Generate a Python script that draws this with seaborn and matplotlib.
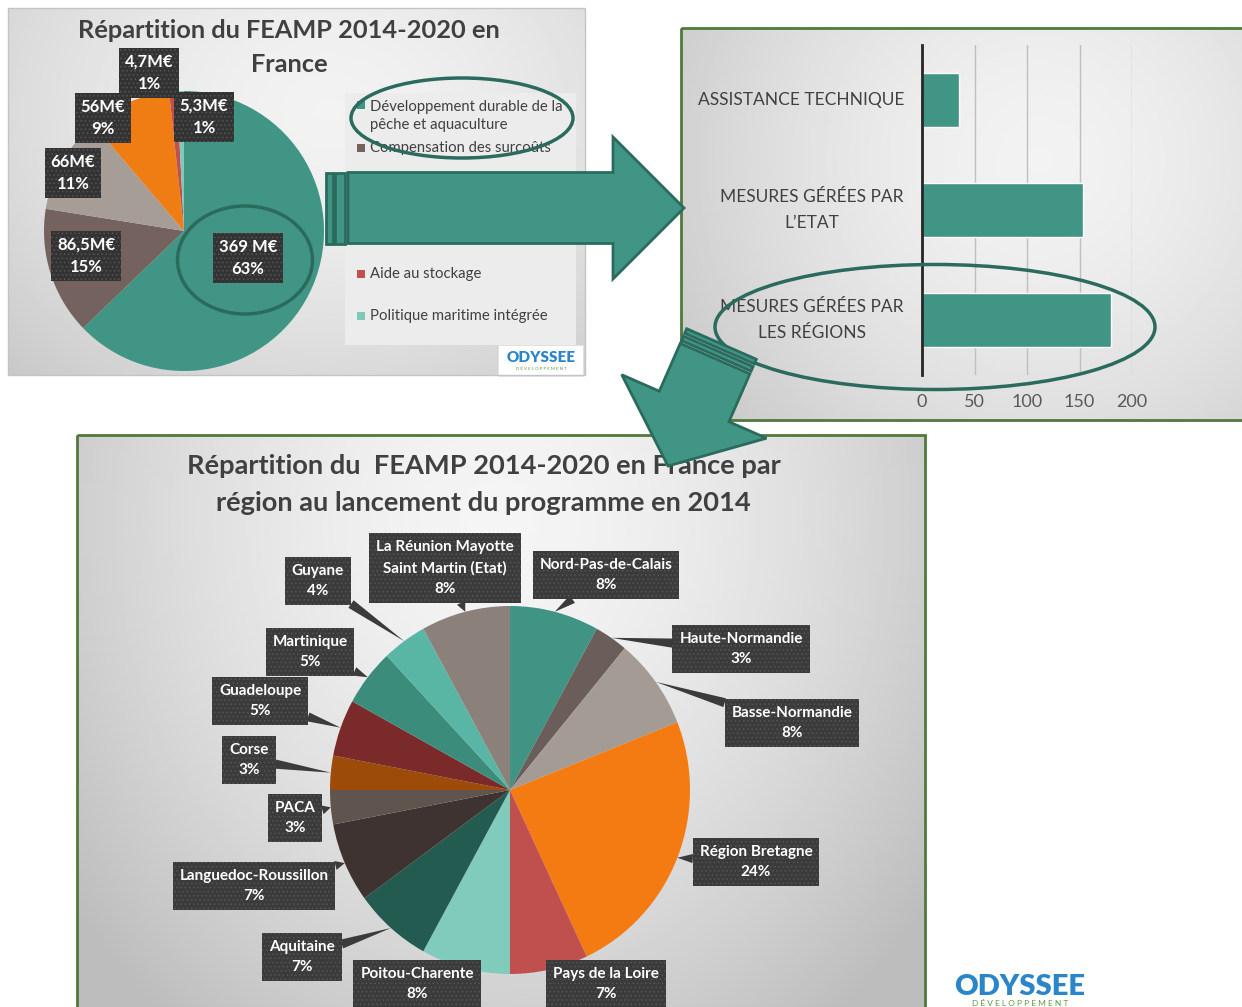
import numpy as np
import seaborn as sns
import matplotlib.pyplot as plt
from matplotlib import font_manager
from matplotlib.patches import Polygon, Rectangle, Ellipse

W, H = 1242, 1007

# ---- data ----------------------------------------------------------------
feamp_labels = ["Développement durable de la\npêche et aquaculture",
                "Compensation des surcoûts", "Contrôle et exécution",
                "Collecte de données", "Aide au stockage",
                "Politique maritime intégrée"]
feamp_meur = [369, 86.5, 66, 56, 5.3, 4.7]
feamp_amount = ["369 M€", "86,5M€", "66M€", "56M€", "5,3M€", "4,7M€"]
feamp_pct = ["63%", "15%", "11%", "9%", "1%", "1%"]
feamp_colors = ["#419585", "#73625e", "#a69d96", "#f07c14", "#c0504d", "#7ecab9"]

bar_cats = ["ASSISTANCE TECHNIQUE", "MESURES GÉRÉES PAR\nL’ETAT",
            "MESURES GÉRÉES PAR\nLES RÉGIONS"]
bar_vals = [35, 153, 180]
bar_ticks = [0, 50, 100, 150, 200]

regions = ["Nord-Pas-de-Calais", "Haute-Normandie", "Basse-Normandie",
           "Région Bretagne", "Pays de la Loire", "Poitou-Charente",
           "Aquitaine", "Languedoc-Roussillon", "PACA", "Corse",
           "Guadeloupe", "Martinique", "Guyane",
           "La Réunion Mayotte\nSaint Martin (Etat)"]
region_pct = [8, 3, 8, 24, 7, 8, 7, 7, 3, 3, 5, 5, 4, 8]
region_colors = ["#3f9483", "#6b5e5a", "#a49b94", "#f47b12", "#c0504d",
                 "#80cbbb", "#245b50", "#3e3330", "#60544f", "#9d4b09",
                 "#7a2a28", "#3b8c7b", "#5ab6a4", "#8c807a"]

# label box centres, in picture pixels
feamp_label_px = [(248, 258), (86, 256), (73, 173), (103, 118), (204, 117), (149, 73)]
region_label_px = [(606, 575), (741, 649), (792, 723), (756, 862), (606, 984),
                   (417, 984), (302, 957), (254, 886), (295, 818), (249, 760),
                   (260, 701), (310, 652), (318, 581), (445, 568)]

# ---- style ----------------------------------------------------------------
sns.set_theme(style="white")
avail = {f.name for f in font_manager.fontManager.ttflist}


def pick(*names):
    for n in names:
        if n in avail:
            return n
    return "DejaVu Sans"


MAIN = pick("Lato", "Open Sans", "Liberation Sans")
NARROW = pick("Liberation Sans Narrow", "Lato")
plt.rcParams["font.family"] = [MAIN, "DejaVu Sans"]
plt.rcParams["hatch.linewidth"] = 0.6

TEAL = "#419585"
EDGE = "#2b6b5d"
GREEN_FRAME = "#4f7a3a"
DARK = "#404040"

fig = plt.figure(figsize=(W / 100, H / 100), dpi=100, facecolor="white")


def px_axes(x0, y0, x1, y1, z=1):
    ax = fig.add_axes([x0 / W, 1 - y1 / H, (x1 - x0) / W, (y1 - y0) / H])
    ax.set_zorder(z)
    ax.patch.set_visible(False)
    return ax


def shade(ax, box, centre, spread, light, dark):
    x0, y0, x1, y1 = box
    xx, yy = np.meshgrid(np.linspace(x0, x1, 240), np.linspace(y0, y1, 240))
    d = np.hypot((xx - centre[0]) / spread[0], (yy - centre[1]) / spread[1])
    val = light - (light - dark) * np.clip(d, 0, 1) ** 1.6
    ax.imshow(val, cmap="gray", vmin=0, vmax=1, extent=(x0, x1, y1, y0),
              aspect="auto", interpolation="bilinear", zorder=0)


def dark_box(fc="#3b3b3b", pad=0.4):
    return dict(boxstyle=f"square,pad={pad}", fc=fc, ec="#555555", lw=0, hatch="....")


# ---- background layer -----------------------------------------------------
bg = px_axes(0, 0, W, H, z=0)
shade(bg, (8, 8, 585, 375), (330, 110), (540, 430), 0.95, 0.74)
shade(bg, (681, 28, 1244, 420), (1040, 160), (430, 430), 0.95, 0.78)
shade(bg, (77, 435, 925, 1010), (500, 520), (540, 640), 0.96, 0.74)
bg.set_xlim(0, W)
bg.set_ylim(H, 0)
bg.axis("off")

bg.add_patch(Rectangle((345, 93), 231, 252, fc="#ececec", ec="none", zorder=1))

bg.text(289, 30, "Répartition du FEAMP 2014-2020 en", ha="center", va="center",
        fontsize=18.3, fontweight="bold", color=DARK, zorder=2)
bg.text(289, 64, "France", ha="center", va="center",
        fontsize=18.3, fontweight="bold", color=DARK, zorder=2)

legend_y = [116, 148, 190, 232, 274, 316]
for i, lab in enumerate(feamp_labels):
    my = 105 if i == 0 else legend_y[i]
    bg.add_patch(Rectangle((357, my - 4), 8, 8, fc=feamp_colors[i], ec="none", zorder=2))
    bg.text(370, legend_y[i], lab, ha="left", va="center", fontsize=10.7,
            color=DARK, linespacing=1.45, zorder=2)

# small logo of the first panel
bg.add_patch(Rectangle((498, 345), 85, 31, fc="white", ec="#dddddd", lw=0.5, zorder=2))
bg.text(541, 358, "ODYSSEE", ha="center", va="center", fontsize=11,
        fontweight="heavy", color="#2a86c8", zorder=3)
bg.text(541, 369, "D É V E L O P P E M E N T", ha="center", va="center",
        fontsize=3.2, color="#5b9b45", zorder=3)

bg.text(484, 466, "Répartition du  FEAMP 2014-2020 en France par", ha="center",
        va="center", fontsize=19.6, fontweight="bold", color=DARK, zorder=2)
bg.text(483, 503, "région au lancement du programme en 2014", ha="center",
        va="center", fontsize=19.6, fontweight="bold", color=DARK, zorder=2)

# logo at the bottom right
bg.text(1020, 987, "ODYSSEE", ha="center", va="center", fontsize=21,
        fontweight="heavy", color="#2a86c8", zorder=2)
bg.text(1020, 1003, "D É V E L O P P E M E N T", ha="center", va="center",
        fontsize=6, color="#5b9b45", zorder=2)

# ---- pie 1 : FEAMP in France ---------------------------------------------
axp = px_axes(44, 91, 324, 371)
axp.pie(feamp_meur, colors=feamp_colors, startangle=90, counterclock=False,
        radius=1, wedgeprops=dict(linewidth=0))
axp.set_xlim(-1, 1)
axp.set_ylim(-1, 1)
axp.set_aspect("auto")
axp.axis("off")
for i, (lx, ly) in enumerate(feamp_label_px):
    axp.text((lx - 184) / 140, (231 - ly) / 140, f"{feamp_amount[i]}\n{feamp_pct[i]}",
             ha="center", va="center", color="white", fontsize=12,
             fontweight="bold", linespacing=1.5, bbox=dark_box("#333333", 0.35))

# ---- bar chart ------------------------------------------------------------
axb = px_axes(922, 45, 1132, 375)
sns.barplot(x=bar_vals, y=bar_cats, orient="h", color=TEAL, saturation=1,
            width=0.49, ax=axb)
axb.set_xlim(0, 200)
axb.set_ylim(2.5, -0.5)
axb.set_xlabel("")
axb.set_ylabel("")
for s in ["top", "right", "bottom"]:
    axb.spines[s].set_visible(False)
axb.spines["left"].set_color("#262626")
axb.spines["left"].set_linewidth(2)
axb.set_xticks(bar_ticks)
axb.tick_params(axis="x", length=0, pad=14, labelsize=13, labelcolor="#595959")
axb.set_yticks(range(len(bar_cats)))
axb.set_yticklabels(bar_cats, multialignment="center", linespacing=1.7,
                    fontsize=12.5, color=DARK, va="center")
axb.tick_params(axis="y", which="major", length=0, pad=13)
axb.set_yticks([-0.5, 0.5, 1.5, 2.5], minor=True)
axb.tick_params(axis="y", which="minor", length=6, width=2, color="#262626",
                direction="out")
axb.grid(axis="x", color="#bfbfbf", lw=1)
axb.grid(axis="y", visible=False)
axb.set_axisbelow(True)

# ---- pie 2 : by region ----------------------------------------------------
axr = px_axes(330, 606, 690, 974)
axr.pie(region_pct, colors=region_colors, startangle=90, counterclock=False,
        radius=1, wedgeprops=dict(linewidth=0))
axr.set_xlim(-1, 1)
axr.set_ylim(-1, 1)
axr.set_aspect("auto")
axr.axis("off")
cum = np.cumsum([0] + region_pct)
mids = np.deg2rad(90 - 3.6 * (cum[:-1] + cum[1:]) / 2)
for i, name in enumerate(regions):
    lx, ly = region_label_px[i]
    axr.annotate(f"{name}\n{region_pct[i]}%",
                 xy=(np.cos(mids[i]), np.sin(mids[i])),
                 xytext=((lx - 510) / 180, (790 - ly) / 184),
                 ha="center", va="center", color="white", fontsize=11,
                 family=[NARROW, "DejaVu Sans"], fontweight="bold",
                 linespacing=1.6, bbox=dark_box(pad=0.45), annotation_clip=False,
                 arrowprops=dict(arrowstyle="wedge,tail_width=0.6,shrink_factor=0.5",
                                 fc="#3b3b3b", ec="none", shrinkA=0, shrinkB=0))

# ---- overlay : frames, highlight rings, arrows ----------------------------
ov = px_axes(0, 0, W, H, z=5)
ov.set_xlim(0, W)
ov.set_ylim(H, 0)
ov.axis("off")

ov.add_patch(Rectangle((8, 8), 577, 367, fill=False, ec="#c4c4c4", lw=1, zorder=1))
ov.add_patch(Rectangle((681, 28), 570, 392, fill=False, ec=GREEN_FRAME, lw=2, zorder=1))
ov.add_patch(Rectangle((77, 435), 848, 580, fill=False, ec=GREEN_FRAME, lw=2, zorder=1))

for cx, cy, w, h in [(462, 118, 222, 80), (245, 260, 135, 108), (935, 327, 440, 125)]:
    ov.add_patch(Ellipse((cx, cy), w, h, fill=False, ec=EDGE, lw=2.5, zorder=2))


def arrow_patches(tail, tip, body_w, head_w, head_len, stripes, body_from):
    tail = np.asarray(tail, float)
    tip = np.asarray(tip, float)
    u = (tip - tail) / np.hypot(*(tip - tail))
    n = np.array([-u[1], u[0]])
    base = tip - u * head_len
    start = tail + u * body_from
    hb, hh = body_w / 2, head_w / 2
    outline = [start + n * hb, base + n * hb, base + n * hh, tip,
               base - n * hh, base - n * hb, start - n * hb]
    parts = [outline]
    for a, b in stripes:
        p, q = tail + u * a, tail + u * b
        parts.append([p + n * hb, q + n * hb, q - n * hb, p - n * hb])
    return [Polygon(pts, closed=True, fc=TEAL, ec=EDGE, lw=2,
                    joinstyle="miter", zorder=3) for pts in parts]


for patch in arrow_patches((326, 208), (684, 208), 71, 142, 71, [(0, 7), (9, 19)], 22):
    ov.add_patch(patch)
for patch in arrow_patches((721.5, 344), (668, 466), 76, 158, 65, [(0, 5), (8, 13)], 16):
    ov.add_patch(patch)

fig.savefig("out.png", dpi=100, facecolor="white")
